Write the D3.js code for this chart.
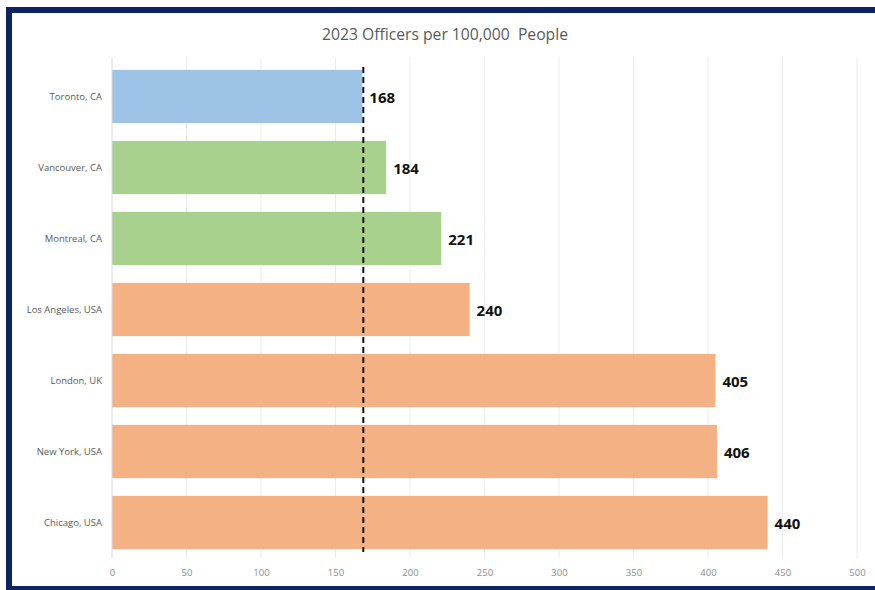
<!DOCTYPE html>
<html><head><meta charset="utf-8">
<script src="https://cdn.jsdelivr.net/npm/d3@7"></script>
<style>body{margin:0;background:#fff;overflow:hidden}svg{display:block}</style>
</head><body>
<svg id="chart" width="875" height="590"></svg>
<script>
const categories = ["Toronto, CA","Vancouver, CA","Montreal, CA","Los Angeles, USA","London, UK","New York, USA","Chicago, USA"];
const values = [168,184,221,240,405,406,440];
const groups = ["blue","green","green","orange","orange","orange","orange"];
const xTicks = [0,50,100,150,200,250,300,350,400,450,500];
const referenceValue = 168;
const title = "2023 Officers per 100,000  People";

const colorMap = {blue:"#9dc3e6", green:"#a9d18e", orange:"#f4b183"};
const font = "'Open Sans', sans-serif";
const svg = d3.select("#chart");

// frame
svg.append("rect").attr("x",0).attr("y",0).attr("width",875).attr("height",590).attr("fill","#fff");
svg.append("rect").attr("x",6).attr("y",7).attr("width",875).attr("height",6).attr("fill","#0c2461");
svg.append("rect").attr("x",6).attr("y",7).attr("width",6).attr("height",590).attr("fill","#0c2461");
svg.append("rect").attr("x",6).attr("y",586).attr("width",875).attr("height",6).attr("fill","#0c2461");

const x = d3.scaleLinear().domain([0,500]).range([112,857]);
const y = d3.scaleBand().domain(categories).range([61,558]).paddingInner(0.25).paddingOuter(0.125);

svg.append("text").attr("x",445).attr("y",40).attr("text-anchor","middle")
  .style("white-space","pre")
  .attr("font-family",font).attr("font-size",15.7).attr("fill","#595959").text(title);

// grid
svg.append("g").selectAll("line").data(xTicks.slice(1)).join("line")
  .attr("x1",d=>x(d)).attr("x2",d=>x(d)).attr("y1",57).attr("y2",558)
  .attr("stroke","#ececec").attr("stroke-width",1);

// bars
svg.append("g").selectAll("rect").data(categories).join("rect")
  .attr("x",x(0)).attr("y",d=>y(d)).attr("width",(d,i)=>x(values[i])-x(0)).attr("height",y.bandwidth())
  .attr("fill",(d,i)=>colorMap[groups[i]]);

// y axis line
svg.append("line").attr("x1",x(0)).attr("x2",x(0)).attr("y1",57).attr("y2",558).attr("stroke","#d9d9d9");

// category labels
svg.append("g").selectAll("text").data(categories).join("text")
  .attr("x",x(0)-10).attr("y",d=>y(d)+y.bandwidth()/2).attr("dy","0.35em").attr("text-anchor","end")
  .attr("font-family",font).attr("font-size",9.5).attr("fill","#595959").text(d=>d);

// value labels
svg.append("g").selectAll("text").data(categories).join("text")
  .attr("x",(d,i)=>x(values[i])+7).attr("y",d=>y(d)+y.bandwidth()/2+1).attr("dy","0.35em")
  .attr("font-family",font).attr("font-weight","bold").attr("font-size",15).attr("fill","#111").text((d,i)=>values[i]);

// x axis
const xAxis = d3.axisBottom(x).tickValues(xTicks).tickSize(0).tickPadding(0);
const gx = svg.append("g").attr("transform","translate(0,569)").call(xAxis);
gx.select(".domain").remove();
gx.selectAll("text").attr("font-family",font).attr("font-size",9.5).attr("fill","#8c8c8c").attr("dy","0.71em");

// reference dashed line
svg.append("line").attr("x1",x(referenceValue)+1).attr("x2",x(referenceValue)+1).attr("y1",67).attr("y2",552)
  .attr("stroke","#111").attr("stroke-width",2).attr("stroke-dasharray","6,4");
</script>
</body></html>
